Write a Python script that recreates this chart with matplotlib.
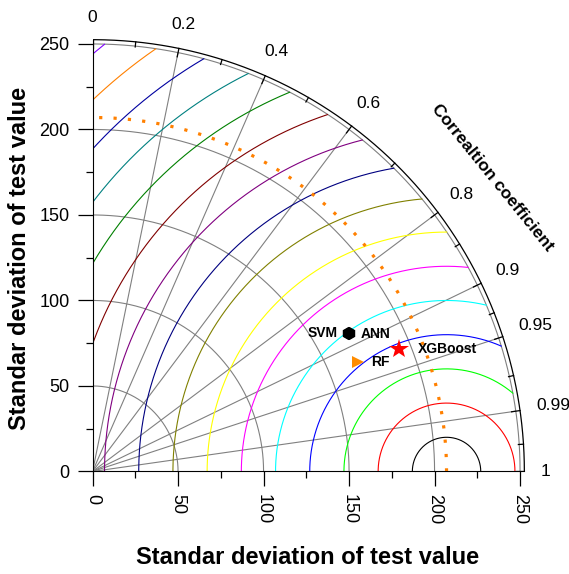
import numpy as np
import matplotlib
matplotlib.use("Agg")
import matplotlib.pyplot as plt

plt.rcParams['font.family'] = ['Liberation Sans', 'DejaVu Sans']

# reference (observed) standard deviation
ref_std = 207

# centred RMS difference contours and their colours
rms_levels = [20, 40, 60, 80, 100, 120, 140, 160, 180, 200, 220, 240, 260, 280, 300, 320]
rms_colors = ['#000000', '#FF0000', '#00FF00', '#0000FF', '#00FFFF', '#FF00FF',
              '#FFFF00', '#808000', '#000080', '#800080', '#800000', '#008000',
              '#008080', '#0000A0', '#FF8000', '#8000FF']

# correlation axis
corr_major = [0, 0.2, 0.4, 0.6, 0.8, 0.9, 0.95, 0.99, 1]
corr_labels = ['0', '0.2', '0.4', '0.6', '0.8', '0.9', '0.95', '0.99', '1']
corr_minor = [0.1, 0.3, 0.5, 0.7, 0.85, 0.93, 0.975, 0.998]

# model results
models = ['SVM', 'ANN', 'RF', 'XGBoost']
model_std = [170.1, 170.4, 167.8, 192.9]
model_corr = [0.879, 0.879, 0.924, 0.929]
markers = ['h', 'h', '>', '*']
marker_colors = ['black', 'black', '#FF8C00', 'red']
marker_sizes = [9.5, 9.5, 9, 15]
label_offsets = [(-7.4, 0), (8.4, -1), (9.6, 0), (13.7, 0)]
label_ha = ['right', 'left', 'left', 'left']

rmax = 250
rbound = 252.5
px_per_unit = 1.712

fig = plt.figure(figsize=(5.69, 5.74), dpi=100)
ax = fig.add_axes([0.1622, 0.1786, 0.8124, 0.8044])
ax.set_xlim(0, 270)
ax.set_ylim(0, 270)
ax.set_aspect('equal')

# RMS contours centred on the reference point, clipped to the quadrant
t = np.linspace(0, np.pi, 3000)
for r, col in zip(rms_levels, rms_colors):
    x = ref_std + r * np.cos(t)
    y = r * np.sin(t)
    keep = (x >= 0) & (x**2 + y**2 <= rmax**2)
    x = np.where(keep, x, np.nan)
    ax.plot(x, y, color=col, lw=0.8, zorder=2)

# standard deviation arcs
q = np.linspace(0, np.pi / 2, 500)
for r in [50, 100, 150, 200, 250]:
    ax.plot(r * np.cos(q), r * np.sin(q), color='gray', lw=0.8, zorder=1)

# radial correlation lines
for c in corr_major[1:-1]:
    a = np.arccos(c)
    ax.plot([0, rmax * np.cos(a)], [0, rmax * np.sin(a)], color='gray', lw=0.8, zorder=1)

# outer boundary with ticks and labels
ax.plot(rbound * np.cos(q), rbound * np.sin(q), color='black', lw=0.9, zorder=3)
for c in corr_major:
    a = np.arccos(c)
    ax.plot([rbound * np.cos(a), (rbound - 5) * np.cos(a)],
            [rbound * np.sin(a), (rbound - 5) * np.sin(a)], color='black', lw=0.9, zorder=3)
for c in corr_minor:
    a = np.arccos(c)
    ax.plot([rbound * np.cos(a), (rbound - 3) * np.cos(a)],
            [rbound * np.sin(a), (rbound - 3) * np.sin(a)], color='black', lw=0.9, zorder=3)

# push each label out by its own half size so the gap to the arc stays even
fs_corr = 12.5
em = fs_corr / 72 * 100 / px_per_unit
for c, lab in zip(corr_major, corr_labels):
    a = np.arccos(c)
    half_w = 0.5 * em * (0.556 * (len(lab) - lab.count('.')) + 0.278 * lab.count('.'))
    half_h = 0.5 * em * 0.716
    r_lab = 262 + half_w * np.cos(a) + half_h * np.sin(a)
    ax.text(r_lab * np.cos(a), r_lab * np.sin(a), lab, ha='center', va='center',
            fontsize=fs_corr, clip_on=False)

a = np.radians(36.3)
ax.text(290 * np.cos(a), 290 * np.sin(a), 'Correaltion coefficient', rotation=-51,
        rotation_mode='anchor', ha='center', va='center', fontsize=12.5,
        fontweight='bold', clip_on=False)

# reference standard deviation arc
ax.plot(ref_std * np.cos(q), ref_std * np.sin(q), color='#FF8000', lw=2.3,
        linestyle=(0, (1, 3.5)), dash_capstyle='butt', zorder=4)

# model points
for i, name in enumerate(models):
    a = np.arccos(model_corr[i])
    px = model_std[i] * np.cos(a)
    py = model_std[i] * np.sin(a)
    ax.plot(px, py, marker=markers[i], color=marker_colors[i], ms=marker_sizes[i],
            markeredgewidth=0, linestyle='none', zorder=5)
    ax.annotate(name, (px, py), xytext=label_offsets[i], textcoords='offset points',
                ha=label_ha[i], va='center', fontsize=10, fontweight='bold', zorder=6)

# axes
ax.spines['top'].set_visible(False)
ax.spines['right'].set_visible(False)
ax.spines['left'].set_bounds(0, rbound)
ax.spines['bottom'].set_bounds(0, rbound)
ax.set_xticks(np.arange(0, 251, 50))
ax.set_yticks(np.arange(0, 251, 50))
ax.set_xticks(np.arange(25, 251, 50), minor=True)
ax.set_yticks(np.arange(25, 251, 50), minor=True)
ax.tick_params(which='major', length=10.5, width=0.9, labelsize=13, direction='out', pad=6)
ax.tick_params(which='minor', length=5, width=0.9, direction='out')
ax.tick_params(axis='x', labelrotation=-90)

fig.text(0.541, 0.0296, 'Standar deviation of test value', ha='center', va='center',
         fontsize=17, fontweight='bold')
fig.text(0.0351, 0.5505, 'Standar deviation of test value', ha='center', va='center',
         rotation=90, fontsize=17, fontweight='bold')

fig.savefig('out.png', dpi=100)
